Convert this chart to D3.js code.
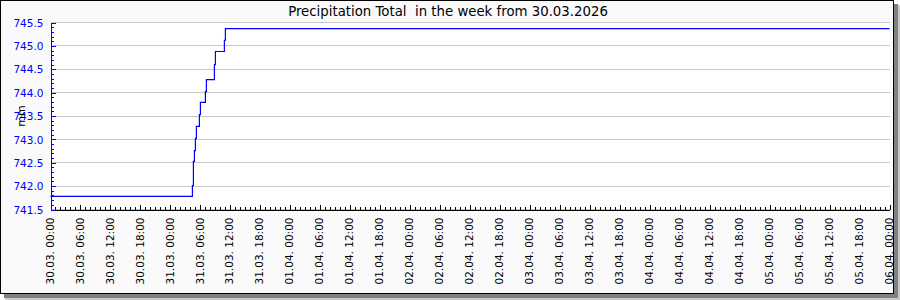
<!DOCTYPE html>
<head>
<meta charset="utf-8">
<style>
body { margin: 0; background: #fff; }
svg text { font-family: 'DejaVu Sans', sans-serif; }
</style>
</head>
<body>
<div id="chart"></div>
<script src="https://d3js.org/d3.v7.min.js"></script>
<script>

// readings of the precipitation total (mm), step values
var times = ["2026-03-30 00:00", "2026-03-31 04:25", "2026-03-31 04:37", "2026-03-31 04:49",
             "2026-03-31 05:01", "2026-03-31 05:13", "2026-03-31 05:49", "2026-03-31 06:01",
             "2026-03-31 07:01", "2026-03-31 07:13", "2026-03-31 08:49", "2026-03-31 09:01",
             "2026-03-31 10:49", "2026-03-31 11:01", "2026-04-06 00:00"];
var values = [741.78, 742.01, 742.53, 742.76,
              743.02, 743.28, 743.53, 743.79,
              744.02, 744.28, 744.60, 744.88,
              745.12, 745.37, 745.37];
var yTicks = [741.5, 742.0, 742.5, 743.0, 743.5, 744.0, 744.5, 745.0, 745.5];
var title = "Precipitation Total  in the week from 30.03.2026";
var unit = "mm";

var W = 900, H = 300;
var plotL = 50.5, plotR = 889.5, plotT = 22.5, plotB = 209.5;

var parse = d3.timeParse("%Y-%m-%d %H:%M");
var data = times.map(function(t, i) { return {t: parse(t), v: values[i]}; });

var svg = d3.select("#chart").append("svg")
    .attr("width", W)
    .attr("height", H);

// drop shadow + frame
svg.append("rect").attr("x", 5).attr("y", 5).attr("width", 895).attr("height", 295).attr("fill", "#c8c8c8");
svg.append("rect").attr("x", 4).attr("y", 4).attr("width", 894).attr("height", 294).attr("fill", "#808080");
svg.append("rect").attr("x", 0.5).attr("y", 0.5).attr("width", 893).attr("height", 293)
    .attr("fill", "#fafafa").attr("stroke", "#000");

var x = d3.scaleTime()
    .domain([parse("2026-03-30 00:00"), parse("2026-04-06 00:00")])
    .range([plotL, plotR]);
var y = d3.scaleLinear()
    .domain([741.5, 745.5])
    .range([plotB, plotT]);

svg.append("rect")
    .attr("x", plotL).attr("y", plotT)
    .attr("width", plotR - plotL).attr("height", plotB - plotT)
    .attr("fill", "#fff");

// grid
svg.append("g").selectAll("line")
    .data(yTicks)
  .enter().append("line")
    .attr("x1", plotL).attr("x2", plotR)
    .attr("y1", function(d) { return y(d); })
    .attr("y2", function(d) { return y(d); })
    .attr("stroke", "#c8c8c8")
    .attr("shape-rendering", "crispEdges");

// x axis: hourly minor ticks, 6-hour major ticks
var gxMinor = svg.append("g")
    .attr("transform", "translate(0," + plotB + ")")
    .call(d3.axisBottom(x).ticks(d3.timeHour.every(1)).tickSize(-3).tickSizeOuter(0).tickFormat(""));
var gx = svg.append("g")
    .attr("transform", "translate(0," + plotB + ")")
    .call(d3.axisBottom(x).ticks(d3.timeHour.every(6)).tickSize(-5).tickSizeOuter(0)
      .tickFormat(d3.timeFormat("%d.%m. %H:%M")));
gx.selectAll("text")
    .attr("transform", "rotate(-90)")
    .attr("x", -8)
    .attr("y", -1)
    .attr("dy", "0.35em")
    .attr("text-anchor", "end")
    .attr("fill", "#000")
    .style("font-size", "10.5px")
    .style("font-family", "DejaVu Sans");
svg.selectAll(".domain, .tick line").attr("stroke", "#000").attr("shape-rendering", "crispEdges");

// y axis
var gyMinor = svg.append("g")
    .attr("transform", "translate(" + plotL + ",0)")
    .call(d3.axisRight(y).ticks(40).tickSize(3).tickSizeOuter(0).tickFormat(""));
var gy = svg.append("g")
    .attr("transform", "translate(" + plotL + ",0)")
    .call(d3.axisRight(y).tickValues(yTicks).tickSize(5).tickSizeOuter(0).tickFormat(d3.format(".1f")));
gy.selectAll("text")
    .attr("x", -7)
    .attr("dy", "0.35em")
    .attr("text-anchor", "end")
    .attr("fill", "#0000ff")
    .style("font-size", "10.5px")
    .style("font-family", "DejaVu Sans");
gyMinor.selectAll(".domain, .tick line").attr("stroke", "#0000ff").attr("shape-rendering", "crispEdges");
gy.selectAll(".domain, .tick line").attr("stroke", "#0000ff").attr("shape-rendering", "crispEdges");

// step line
var line = d3.line()
    .x(function(d) { return x(d.t); })
    .y(function(d) { return y(d.v); })
    .curve(d3.curveStepAfter);

svg.append("path")
    .datum(data)
    .attr("d", line)
    .attr("fill", "none")
    .attr("stroke", "#0000ff")
    .attr("stroke-width", 1.2);

// title and unit
svg.append("text")
    .attr("x", 448)
    .attr("y", 15.5)
    .attr("text-anchor", "middle")
    .style("font-size", "13.3px")
    .style("white-space", "pre")
    .attr("fill", "#000")
    .text(title);

svg.append("text")
    .attr("transform", "translate(25," + ((plotT + plotB) / 2) + ") rotate(-90)")
    .attr("text-anchor", "middle")
    .style("font-size", "11px")
    .attr("fill", "#000")
    .text(unit);

</script>
</body>
